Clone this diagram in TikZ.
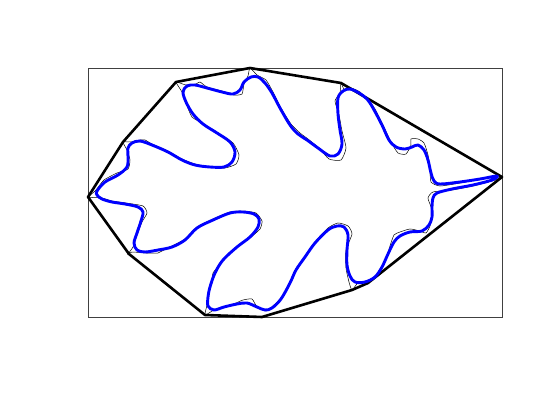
\documentclass[tikz,border=0pt]{standalone}
\usepackage{tikz}
\usetikzlibrary{calc}

\begin{document}
\begin{tikzpicture}[
    x=1pt, y=-1pt,
    axesbox/.style={draw=black!75, line width=0.6pt},
    hull/.style={draw=black, line width=2.6pt, line join=round},
    outline/.style={draw=black, line width=0.5pt},
    smoothed/.style={draw=blue, line width=2.9pt, line join=round}
]
\useasboundingbox (0,0) rectangle (560,420);
\draw[axesbox] (88,68) rectangle (502,317);
% original outline
\draw[outline] plot[smooth cycle, tension=0.35] coordinates {
  (89,197) (96,190) (104,180) (117,173) (128,169) (130,160) (127,150)
  (123,142) (131,142) (140,140) (145,140) (152,144) (168,151) (182,159)
  (195,164) (210,167) (225,168) (236,164) (239,155) (233,143) (218,133)
  (204,124) (192,117) (186,103) (182,92) (176,82) (186,85) (196,84)
  (200,82) (207,87) (222,91) (234,95) (242,94) (244,84) (248,76)
  (250,68) (257,75) (266,80) (273,92) (281,108) (291,124) (300,133)
  (308,139) (319,148) (329,159) (341,160) (346,148) (342,131) (339,115)
  (335,101) (340,93) (341,83) (344,89) (351,88) (360,92) (370,102)
  (375,109) (383,125) (391,142) (398,153) (406,154) (411,145) (411,139)
  (418,139) (424,143) (428,155) (430,170) (431,182) (440,186) (460,183)
  (480,179) (502,177) (492,181) (473,186) (452,190) (433,192) (428,198)
  (431,207) (432,217) (430,226) (426,233) (420,231) (410,229) (400,232)
  (394,235) (390,246) (385,262) (378,275) (368,282) (358,283) (352,290)
  (349,282) (346,268) (346,250) (352,234) (348,226) (338,223) (328,228)
  (315,242) (305,256) (296,269) (290,283) (281,298) (274,305) (266,311)
  (257,307) (252,299) (243,300) (236,303) (224,307) (214,310) (205,315)
  (207,305) (208,296) (211,285) (213,273) (217,268) (224,259) (238,246)
  (251,237) (260,229) (262,221) (256,213) (243,211) (230,212) (213,219)
  (197,227) (185,239) (172,246) (162,251) (158,253) (146,253) (132,252)
  (128,254) (133,247) (137,235) (142,222) (147,213) (143,206) (126,203)
  (112,201) (102,198)
};
% convex hull
\draw[hull] (88,197) -- (123,142) -- (176,82) -- (250,68) -- (341,83)
  -- (502,177) -- (368,283) -- (352,290) -- (262,317) -- (205,315)
  -- (129,254) -- cycle;
% smoothed curve
\draw[smoothed] plot[smooth cycle, tension=0.55] coordinates {
  (97,191) (105,182) (118,175) (127,167) (128,157) (128,148) (132,143)
  (140,141) (152,145) (168,152) (182,160) (195,165) (210,167) (224,167)
  (232,162) (235,152) (230,142) (217,133) (203,124) (193,114) (186,102)
  (183,92) (187,86) (195,85) (207,88) (222,92) (233,94) (240,90)
  (244,82) (251,77) (258,77) (265,83) (272,93) (280,108) (290,125)
  (298,134) (307,140) (318,148) (330,156) (338,154) (342,144) (340,130)
  (338,114) (338,98) (343,91) (350,89) (359,93) (367,99) (373,108)
  (382,125) (389,140) (396,147) (405,149) (412,147) (418,145) (424,150)
  (428,160) (431,173) (434,181) (440,184) (460,182) (480,179) (497,176)
  (492,180) (473,185) (452,189) (437,193) (433,198) (432,207) (432,217)
  (429,225) (422,231) (410,232) (400,236) (394,242) (388,254) (382,267)
  (375,277) (365,282) (355,282) (350,276) (347,265) (347,250) (348,235)
  (344,227) (337,226) (328,230) (315,243) (305,257) (296,270) (290,283)
  (281,299) (272,308) (265,310) (257,307) (247,303) (237,304) (224,307)
  (214,310) (208,306) (208,297) (210,287) (215,273) (223,260) (237,247)
  (250,237) (258,227) (259,219) (254,214) (243,212) (230,213) (213,220)
  (197,228) (185,240) (172,247) (158,250) (145,252) (137,250) (134,243)
  (137,233) (141,221) (143,212) (138,207) (125,204) (112,202) (102,199)
  (97,195)
};
\end{tikzpicture}
\end{document}
